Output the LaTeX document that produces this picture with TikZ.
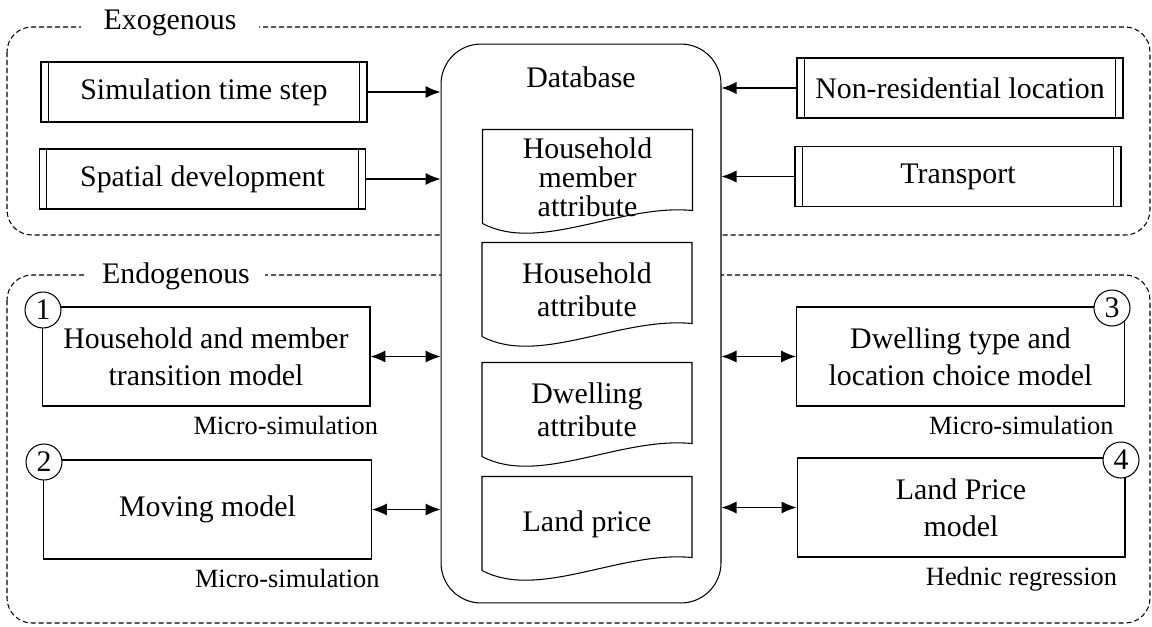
\documentclass[tikz,border=0pt]{standalone}
\usepackage{fontspec}
\setmainfont{Liberation Serif}
\newfontfamily\timesfont{Liberation Serif}
\usetikzlibrary{arrows.meta}

\begin{document}
\begin{tikzpicture}[x=0.02cm,y=-0.02cm,
  font=\timesfont\fontsize{17}{19}\selectfont, line width=0.6pt,
  frame/.style={dash pattern=on 0.1cm off 0.06cm, rounded corners=0.5cm},
  tag/.style={fill=white, inner ysep=1pt},
  exo/.style={draw, line width=0.8pt, minimum width=6.52cm, minimum height=1.2cm},
  doc/.style={align=center, minimum width=4.18cm, minimum height=1.6cm, inner sep=0pt},
  model/.style={draw, fill=white, align=center, font=\timesfont\fontsize{17}{21}\selectfont,
    minimum width=6.56cm, minimum height=1.98cm},
  num/.style={draw, circle, fill=white, minimum size=0.72cm, inner sep=0pt},
  sub/.style={font=\timesfont\fontsize{15}{17}\selectfont, inner sep=0pt},
  conn/.style={-{Latex[length=0.3cm,width=0.24cm]}},
  both/.style={{Latex[length=0.3cm,width=0.24cm]}-{Latex[length=0.3cm,width=0.24cm]}}]
\useasboundingbox (0,0) rectangle (1152,626);

% the two dashed groups
\draw[frame] (7,27) rectangle (1150,235);
\draw[frame] (7,275) rectangle (1150,623);
\node[tag, inner xsep=0.45cm] (exog) at (170,23) {Exogenous};
\node[tag, inner xsep=0.3cm] (endog) at (176,276) {Endogenous};

% database with its tables
\node[draw, fill=white, rounded corners=0.8cm, minimum width=5.6cm, minimum height=11.18cm] (db) at (581,323.5) {};
\node (dbl) at (581,77) {Database};
\node[doc, font=\timesfont\fontsize{17}{16.5}\selectfont] (hma) at (587.5,177) {Household\\member\\attribute};
\node[doc] (ha) at (587,290) {Household\\attribute};
\node[doc] (da) at (587,410) {Dwelling\\attribute};
\node[doc] (lp) at (587,524) {Land price};
% outline sits a little above the text
\foreach \n in {hma,ha,da,lp}
  \draw ([yshift=0.14cm]\n.south east) -- ([yshift=0.14cm]\n.north east) -- ([yshift=0.14cm]\n.north west)
    -- ([yshift=-0.12cm]\n.south west)
    .. controls +(57,30) and +(-72,-7) .. ([yshift=0.14cm]\n.south east) -- cycle;

% exogenous inputs
\node[exo] (sim) at (204,92) {Simulation time step};
\node[exo] (spa) at (202.5,179) {Spatial development};
\node[exo] (nrl) at (960,88) {Non-residential location};
\node[exo] (tra) at (958,176.5) {Transport};
\foreach \n in {sim,spa,nrl,tra}
  \draw ([xshift=0.16cm]\n.north west) -- ([xshift=0.16cm]\n.south west)
        ([xshift=-0.16cm]\n.north east) -- ([xshift=-0.16cm]\n.south east);

\draw[conn] (sim.east) -- (sim -| db.west);
\draw[conn] (spa.east) -- (spa -| db.west);
\draw[conn] (nrl.west) -- (nrl -| db.east);
\draw[conn] (tra.west) -- (tra -| db.east);

% endogenous models
\node[model] (m1) at (206,356.5) {Household and member\\transition model};
\node[model] (m2) at (207.5,509.5) {Moving model};
\node[model] (m3) at (960.5,356.5) {Dwelling type and\\location choice model};
\node[model] (m4) at (961,507.5) {Land Price\\model};
\node[num] (n1) at (43,310) {1};
\node[num] (n2) at (44,462) {2};
\node[num] (n3) at (1112,308) {3};
\node[num] (n4) at (1121,460) {4};

\node[sub, anchor=north east] (s1) at ([shift={(0.16cm,-0.18cm)}]m1.south east) {Micro-simulation};
\node[sub, anchor=north east] (s2) at ([shift={(0.16cm,-0.18cm)}]m2.south east) {Micro-simulation};
\node[sub, anchor=north east] (s3) at ([shift={(-0.22cm,-0.18cm)}]m3.south east) {Micro-simulation};
\node[sub, anchor=north east] (s4) at ([shift={(-0.16cm,-0.18cm)}]m4.south east) {Hednic regression};

\draw[both] (m1.east) -- (m1 -| db.west);
\draw[both] (m2.east) -- (m2 -| db.west);
\draw[both] (m3.west) -- (m3 -| db.east);
\draw[both] (m4.west) -- (m4 -| db.east);
\end{tikzpicture}
\end{document}
